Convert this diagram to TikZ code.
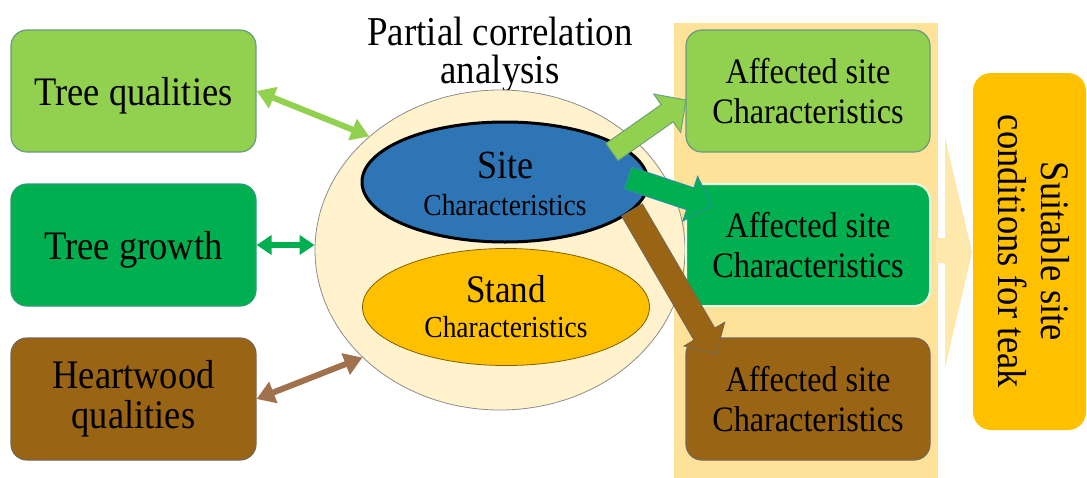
\documentclass[tikz,border=0pt]{standalone}
\usepackage{fontspec}
\setmainfont{Liberation Serif}[FakeStretch=0.9]
\usetikzlibrary{shapes.geometric,arrows.meta,calc}

\definecolor{lgreen}{HTML}{92D050}
\definecolor{dgreen}{HTML}{00B050}
\definecolor{brownbox}{HTML}{996515}
\definecolor{gold}{HTML}{FFC000}
\definecolor{cream}{HTML}{FFF2CC}
\definecolor{panelfill}{HTML}{FFE29A}
\definecolor{panelarrow}{HTML}{FFE8AC}
\definecolor{siteblue}{HTML}{2E75B6}
\definecolor{brownlink}{HTML}{A0714D}
\definecolor{lgreenedge}{HTML}{6A9A80}
\definecolor{dgreenedge}{HTML}{2E9B7A}
\definecolor{brownedge}{HTML}{76654F}
\definecolor{tealedge}{HTML}{2A8FA8}

\newcommand\fs[2]{\fontsize{#1}{#2}\selectfont}

% block arrow: #1 style, #2 tail, #3 tip, #4 name prefix, #5 shaft half width
\newcommand\blockarrow[5]{%
  \coordinate (#4-base) at ($(#3)!23pt!(#2)$);
  \draw[#1] ($(#2)!#5!90:(#3)$) -- ($(#4-base)!#5!90:(#3)$)
    -- ($(#4-base)!23.5pt!90:(#3)$) -- (#3)
    -- ($(#4-base)!23.5pt!-90:(#3)$) -- ($(#4-base)!#5!-90:(#3)$)
    -- ($(#2)!#5!-90:(#3)$) -- cycle;}

\begin{document}
\begin{tikzpicture}[x=1pt,y=-1pt,
  box/.style={rectangle, rounded corners=16pt, minimum width=245pt,
    minimum height=122pt, inner sep=0pt, align=center, line width=1.2pt},
  leftbox/.style={box, font=\fs{40.5}{40}},
  rightbox/.style={box, minimum width=244pt, font=\fs{35.8}{40}},
  dbl/.style={line width=6pt,
    {Triangle[width=22pt,length=18pt]}-{Triangle[width=22pt,length=18pt]}},
  dblsmall/.style={line width=6pt,
    {Triangle[width=19pt,length=15pt]}-{Triangle[width=19pt,length=15pt]}},
  blk/.style={line width=0.9pt, line join=miter},
  oval/.style={ellipse, inner sep=0pt}]

\useasboundingbox (0,0) rectangle (1087,477);

% background strip behind the affected-site boxes and its arrow
\fill[panelfill] (674,23) rectangle (938,480);
\fill[panelarrow] (936,238) -- (945,238) -- (945,137) -- (972,252.5)
  -- (945,368) -- (945,263) -- (936,263) -- cycle;

% title
\node[anchor=base, font=\fs{41}{40}] (title1) at (500,45) {Partial correlation};
\node[anchor=base, font=\fs{41}{40}] (title2) at (500,83) {analysis};

% central analysis ellipse
\node[oval, fill=cream, draw=black!45, line width=0.8pt,
  minimum width=370pt, minimum height=320pt] (outer) at (500,250) {};
\node[oval, fill=siteblue, draw=black, line width=3pt,
  minimum width=286pt, minimum height=120pt] (site) at (505,182) {};
\node[anchor=base, font=\fs{40}{40}] (sitet) at (505,178) {Site};
\node[anchor=base, font=\fs{30.5}{32}] (sitec) at (505,215) {Characteristics};
\node[oval, fill=gold, draw=black!50!gold, line width=0.8pt,
  minimum width=287pt, minimum height=117pt] (stand) at (506,307) {};
\node[anchor=base, font=\fs{39}{40}] (standt) at (506,302) {Stand};
\node[anchor=base, font=\fs{30.5}{32}] (standc) at (506,337) {Characteristics};

% tree attributes
\node[leftbox, fill=lgreen, draw=lgreenedge, text depth=0pt] (tq) at (133.5,91) {Tree qualities};
\node[leftbox, fill=dgreen, draw=dgreenedge, text depth=0pt] (tg) at (133.5,245) {Tree growth};
\node[leftbox, fill=brownbox, draw=brownedge] (hq) at (133.5,399) {Heartwood\\qualities};

% affected site characteristics
\node[rightbox, fill=lgreen, draw=lgreenedge] (af1) at (808,91) {Affected site\\Characteristics};
\node[rightbox, fill=dgreen, draw=green!10, line width=2pt] (af2) at (808,245) {Affected site\\Characteristics};
\node[rightbox, fill=brownbox, draw=brownedge] (af3) at (808,399) {Affected site\\Characteristics};

% result
\node[rectangle, rounded corners=18pt, fill=gold, inner sep=0pt,
  minimum width=113pt, minimum height=357pt] (suit) at (1029.5,251.5) {};
\node[rotate=-90, align=center, inner sep=0pt, font=\fs{40.5}{43}]
  (suitt) at ([xshift=4pt]suit.center) {Suitable site\\conditions for teak};

% correlation links
\draw[dbl, lgreen] (tq.east) -- (outer.139);
\draw[dblsmall, dgreen] (tg.east) -- (outer.west |- tg.east);
\draw[dbl, brownlink] (hq.east) -- (outer.218);

% site effects
\coordinate (s1) at (612,152);
\coordinate (e1) at (686,100);
\coordinate (s2) at (628,178);
\coordinate (e2) at (712,206);
\coordinate (s3) at (632,210);
\coordinate (e3) at (716,354);
\blockarrow{blk, fill=lgreen, draw=lgreenedge}{s1}{e1}{a1}{10.5pt}
\blockarrow{blk, fill=dgreen, draw=tealedge}{s2}{e2}{a2}{11.5pt}
\blockarrow{blk, fill=brownbox, draw=brownedge}{s3}{e3}{a3}{12pt}

\end{tikzpicture}
\end{document}
